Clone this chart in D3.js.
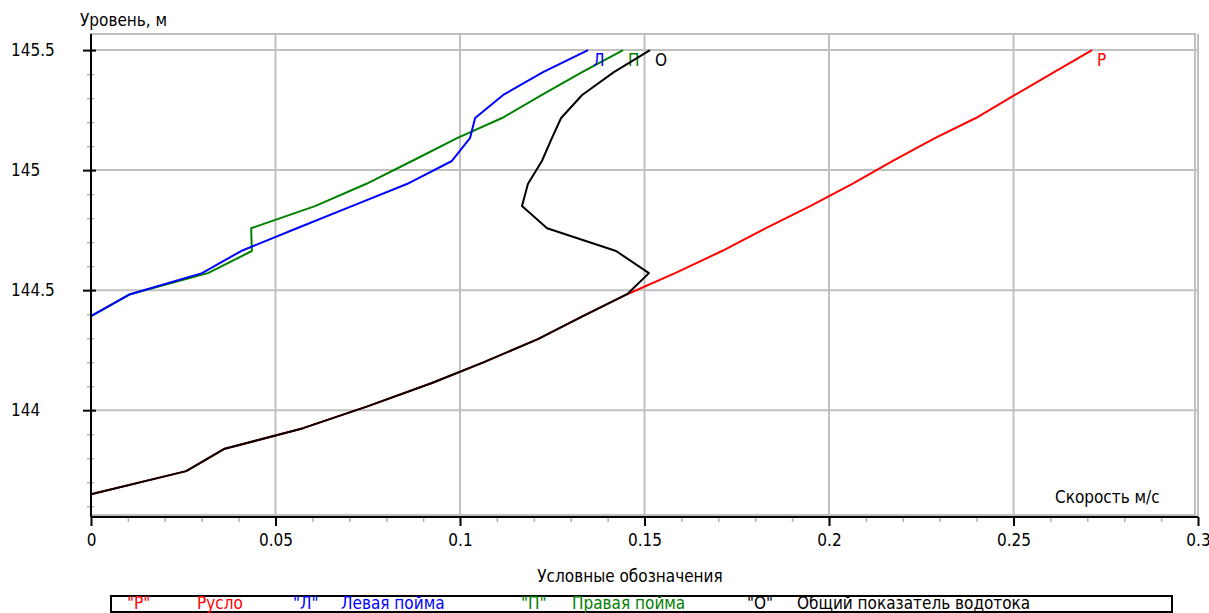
<!DOCTYPE html>
<meta charset="utf-8">
<title>Скорость по уровням</title>
<script src="https://d3js.org/d3.v7.min.js"></script>
<style>
  body { margin: 0; background: #fff; }
  svg text { font-family: "Liberation Sans Narrow", "DejaVu Sans Condensed", sans-serif; font-size: 17px; }
  .grid line { stroke: #c0c0c0; stroke-width: 2px; }
  .minor line { stroke: #b0b0b0; stroke-width: 1.5px; }
  .series { fill: none; stroke-width: 2px; stroke-linejoin: round; }
</style>
<div id="chart"></div>
<script>
// levels, m
var levels = [143.650, 143.746, 143.838, 143.925, 144.017, 144.113, 144.200, 144.296, 144.392, 144.483,
              144.571, 144.663, 144.758, 144.850, 144.942, 145.038, 145.133, 145.217, 145.313, 145.408, 145.500];
// channel "Р"
var ruslo = [0, 0.0258, 0.0360, 0.0575, 0.0751, 0.0924, 0.1065, 0.1211, 0.1333, 0.1453,
             0.1583, 0.1710, 0.1829, 0.1949, 0.2062, 0.2173, 0.2287, 0.2398, 0.2504, 0.2610, 0.2713];
// overall "О"
var obsh = [0, 0.0258, 0.0360, 0.0575, 0.0751, 0.0924, 0.1065, 0.1211, 0.1333, 0.1453,
            0.1512, 0.1423, 0.1236, 0.1168, 0.1184, 0.1222, 0.1249, 0.1274, 0.1331, 0.1417, 0.1515];
// left floodplain "Л" (from level 144.392)
var levelsPoima = [144.392, 144.483, 144.571, 144.663, 144.758, 144.850, 144.942, 145.038, 145.133, 145.217, 145.313, 145.408, 145.500];
var levaya = [0, 0.0106, 0.0301, 0.0407, 0.0558, 0.0707, 0.0856, 0.0978, 0.1027, 0.1041, 0.1117, 0.1225, 0.1347];
// right floodplain "П"
var levelsPrav = [144.392, 144.483, 144.571, 144.663, 144.758, 144.850, 144.942, 145.038, 145.133, 145.217, 145.313, 145.408, 145.500];
var pravaya = [0, 0.0106, 0.0317, 0.0436, 0.0434, 0.0607, 0.0745, 0.0870, 0.0992, 0.1114, 0.1222, 0.1331, 0.1442];

var xTicks = [0, 0.05, 0.1, 0.15, 0.2, 0.25, 0.3];
var xTickLabels = ["0", "0.05", "0.1", "0.15", "0.2", "0.25", "0.3"];
var yTicks = [144, 144.5, 145, 145.5];
var yTickLabels = ["144", "144.5", "145", "145.5"];

var legendCodes = ['"Р"', '"Л"', '"П"', '"О"'];
var legendNames = ["Русло", "Левая пойма", "Правая пойма", "Общий показатель водотока"];
var legendColors = ["#ff0000", "#0000ff", "#008000", "#000000"];

var W = 1209, H = 613;
var pLeft = 91, pRight = 1198, pTop = 34, pBottom = 517;

var svg = d3.select("#chart").append("svg")
    .attr("width", W)
    .attr("height", H);

var x = d3.scaleLinear().domain([0, 0.3]).range([pLeft, pRight]);
var y = d3.scaleLinear().domain([143.555, 145.567]).range([pBottom, pTop]);

// frame
svg.append("rect")
    .attr("x", pLeft).attr("y", pTop)
    .attr("width", 1195 - pLeft).attr("height", 515 - pTop)
    .attr("fill", "none").attr("stroke", "#c0c0c0").attr("stroke-width", 2);

// grid
svg.append("g").attr("class", "grid")
  .selectAll("line").data(xTicks.slice(1)).enter().append("line")
    .attr("x1", function(d) { return x(d); }).attr("x2", function(d) { return x(d); })
    .attr("y1", pTop).attr("y2", pBottom);
svg.append("g").attr("class", "grid")
  .selectAll("line").data(yTicks).enter().append("line")
    .attr("x1", pLeft).attr("x2", pRight)
    .attr("y1", function(d) { return y(d); }).attr("y2", function(d) { return y(d); });

// minor ticks
svg.append("g").attr("class", "minor")
    .attr("transform", "translate(0," + pBottom + ")")
    .call(d3.axisBottom(x).tickValues(d3.range(1, 30).map(function(i) { return i / 100; })).tickSize(5).tickFormat(""))
    .call(function(g) { g.select(".domain").remove(); });
svg.append("g").attr("class", "minor")
    .attr("transform", "translate(" + (pLeft + 3) + ",0)")
    .call(d3.axisLeft(y).tickValues(d3.range(0, 20).map(function(i) { return 143.6 + i / 10; })
        .filter(function(v) { return Math.abs(v * 2 - Math.round(v * 2)) > 0.01; })).tickSize(7).tickFormat(""))
    .call(function(g) { g.select(".domain").remove(); });

// lines
var line = d3.line()
    .x(function(d) { return x(d[0]); })
    .y(function(d) { return y(d[1]); });

function addSeries(vals, lev, color, label) {
  var pts = vals.map(function(v, i) { return [v, lev[i]]; });
  svg.append("path").attr("class", "series")
      .attr("d", line(pts))
      .attr("stroke", color);
  var last = pts[pts.length - 1];
  svg.append("text")
      .attr("x", x(last[0]) + 5)
      .attr("y", y(last[1]) + 16)
      .attr("fill", color)
      .text(label);
}
addSeries(ruslo, levels, "#ff0000", "Р");
addSeries(pravaya, levelsPrav, "#008000", "П");
addSeries(levaya, levelsPoima, "#0000ff", "Л");
addSeries(obsh, levels, "#000000", "О");

// axes
var xAxis = svg.append("g")
    .attr("transform", "translate(0," + pBottom + ")")
    .call(d3.axisBottom(x).tickValues(xTicks).tickSize(9).tickPadding(8)
      .tickFormat(function(d, i) { return xTickLabels[i]; }));
xAxis.select(".domain").attr("stroke", "#000").attr("stroke-width", 2).attr("d", "M" + pLeft + ",0H" + pRight);
xAxis.selectAll(".tick line").attr("stroke", "#000").attr("stroke-width", 2);
xAxis.selectAll("text").attr("fill", "#000").style("font-size", "17px");

var yAxis = svg.append("g")
    .attr("transform", "translate(" + pLeft + ",0)")
    .call(d3.axisLeft(y).tickValues(yTicks).tickSize(8)
      .tickFormat(function(d, i) { return yTickLabels[i]; }));
yAxis.select(".domain").attr("stroke", "#000").attr("stroke-width", 2).attr("d", "M0," + pTop + "V" + pBottom);
yAxis.selectAll(".tick line").attr("stroke", "#000").attr("stroke-width", 2).attr("x2", 5).attr("x1", -8);
yAxis.selectAll("text").attr("fill", "#000").attr("x", 11 - pLeft).attr("text-anchor", "start").style("font-size", "17px");

// titles
svg.append("text").attr("x", 80).attr("y", 26).text("Уровень, м");
svg.append("text").attr("x", 1055).attr("y", 503).text("Скорость м/с");
svg.append("text").attr("x", 630).attr("y", 582).attr("text-anchor", "middle").text("Условные обозначения");

// legend
svg.append("rect")
    .attr("x", 111).attr("y", 596)
    .attr("width", 1061).attr("height", 16)
    .attr("fill", "none").attr("stroke", "#000").attr("stroke-width", 2);
var codeX = [127, 293, 521, 747];
var nameX = [197, 341, 572, 797];
legendCodes.forEach(function(c, i) {
  svg.append("text").attr("x", codeX[i]).attr("y", 609).attr("fill", legendColors[i]).text(c);
  svg.append("text").attr("x", nameX[i]).attr("y", 609).attr("fill", legendColors[i]).text(legendNames[i]);
});
</script>
